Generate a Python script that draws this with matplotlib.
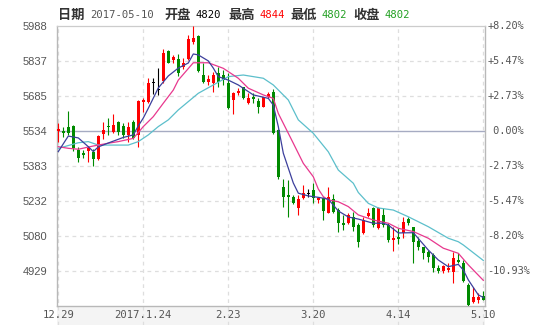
import matplotlib
matplotlib.use("Agg")
import matplotlib.pyplot as plt
import matplotlib.transforms as mtransforms
from matplotlib.patches import Rectangle
import numpy as np

# =========================
# Data
# =========================
opens = [5533, 5534, 5553, 5556, 5452, 5440, 5449, 5444, 5411, 5520,
         5556, 5531, 5572, 5556, 5517, 5574, 5517, 5661, 5659, 5743,
         5713, 5750, 5880, 5840, 5844, 5811, 5847, 5919, 5945, 5776,
         5747, 5743, 5783, 5776, 5740, 5668, 5700, 5723, 5654, 5682,
         5665, 5636, 5680, 5704, 5538, 5293, 5257, 5247, 5202, 5243,
         5265, 5279, 5236, 5243, 5181, 5239, 5192, 5137, 5137, 5163,
         5128, 5091, 5166, 5200, 5113, 5171, 5127, 5063, 5077, 5092,
         5152, 5117, 5060, 5031, 5012, 4998, 4940, 4930, 4933, 4926,
         4976, 4964, 4868, 4796, 4803, 4820]
highs = [5567, 5553, 5622, 5560, 5466, 5452, 5469, 5455, 5517, 5574,
         5589, 5607, 5579, 5567, 5574, 5582, 5668, 5675, 5764, 5764,
         5805, 5887, 5884, 5861, 5866, 5848, 5948, 5988, 5949, 5827,
         5776, 5790, 5812, 5798, 5783, 5704, 5719, 5726, 5700, 5697,
         5675, 5680, 5704, 5714, 5541, 5325, 5322, 5257, 5257, 5300,
         5282, 5308, 5250, 5250, 5290, 5261, 5199, 5171, 5179, 5185,
         5138, 5163, 5201, 5207, 5207, 5200, 5135, 5120, 5113, 5163,
         5163, 5120, 5077, 5034, 5019, 5005, 4955, 4955, 4962, 5012,
         5005, 4976, 4875, 4861, 4832, 4844]
lows = [5487, 5508, 5517, 5449, 5401, 5416, 5401, 5384, 5408, 5499,
        5517, 5524, 5517, 5502, 5487, 5498, 5466, 5617, 5654, 5693,
        5690, 5743, 5827, 5827, 5772, 5801, 5841, 5910, 5789, 5740,
        5733, 5704, 5726, 5733, 5628, 5607, 5690, 5671, 5651, 5654,
        5613, 5636, 5675, 5521, 5326, 5207, 5163, 5220, 5171, 5239,
        5247, 5223, 5223, 5149, 5179, 5178, 5097, 5106, 5132, 5103,
        5034, 5089, 5162, 5120, 5110, 5120, 5055, 5016, 5045, 5070,
        5127, 4962, 5019, 4979, 4969, 4926, 4921, 4921, 4926, 4878,
        4962, 4882, 4778, 4789, 4789, 4802]
closes = [5542, 5524, 5524, 5459, 5418, 5430, 5462, 5411, 5514, 5538,
          5550, 5560, 5531, 5517, 5553, 5502, 5664, 5668, 5740, 5743,
          5713, 5870, 5829, 5855, 5783, 5828, 5930, 5936, 5793, 5747,
          5757, 5776, 5747, 5754, 5632, 5697, 5708, 5675, 5675, 5671,
          5636, 5680, 5694, 5524, 5336, 5247, 5250, 5224, 5238, 5267,
          5265, 5243, 5243, 5188, 5247, 5185, 5137, 5127, 5171, 5117,
          5054, 5149, 5181, 5127, 5200, 5127, 5063, 5070, 5066, 5142,
          5137, 5055, 5034, 5008, 4990, 4940, 4930, 4950, 4940, 4983,
          4969, 4887, 4781, 4815, 4818, 4802]

# moving average lines, read at sample candles
ma5_idx = [0, 2, 4, 6, 7, 8, 10, 13, 15, 16, 17, 18, 20, 22, 24, 26, 27, 28,
           30, 31, 32, 34, 36, 39, 42, 43, 44, 45, 47, 48, 50, 52, 54, 56,
           58, 60, 63, 65, 66, 68, 71, 74, 76, 78, 80, 81, 82, 84, 85]
ma5_val = [5445, 5512, 5504, 5466, 5445, 5465, 5482, 5506, 5517, 5556, 5590,
           5632, 5720, 5772, 5806, 5828, 5867, 5863, 5837, 5806, 5769, 5754,
           5733, 5690, 5675, 5646, 5553, 5438, 5309, 5265, 5253, 5247, 5239,
           5188, 5162, 5153, 5135, 5135, 5127, 5093, 5094, 5019, 4976, 4947,
           4957, 4933, 4890, 4825, 4814]
ma10_idx = [0, 2, 4, 7, 10, 12, 15, 17, 19, 21, 23, 24, 27, 30, 33, 36, 38,
            41, 43, 44, 47, 49, 51, 52, 53, 54, 56, 58, 60, 63, 66, 68, 71,
            74, 77, 80, 82, 85]
ma10_val = [5466, 5459, 5455, 5469, 5481, 5488, 5502, 5553, 5596, 5654, 5711,
            5754, 5829, 5829, 5805, 5762, 5719, 5690, 5675, 5610, 5481, 5394,
            5336, 5283, 5250, 5236, 5228, 5207, 5171, 5149, 5135, 5113, 5099,
            5070, 5027, 5005, 4955, 4888]
ma20_idx = [0, 4, 6, 8, 14, 16, 18, 20, 22, 24, 28, 31, 34, 37, 41, 43, 46,
            48, 51, 54, 56, 59, 60, 62, 64, 67, 70, 74, 78, 80, 81, 85]
ma20_val = [5459, 5483, 5488, 5473, 5473, 5488, 5517, 5553, 5582, 5625, 5697,
            5733, 5769, 5776, 5762, 5733, 5668, 5582, 5524, 5444, 5365, 5308,
            5268, 5221, 5201, 5192, 5163, 5120, 5070, 5055, 5041, 4974]

x_ticks = [0, 17, 34, 51, 68, 85]
x_labels = ["12.29", "2017.1.24", "2.23", "3.20", "4.14", "5.10"]
y_ticks = [5988, 5837, 5685, 5534, 5383, 5232, 5080, 4929]
pct_labels = ["+8.20%", "+5.47%", "+2.73%", " 0.00%",
              "-2.73%", "-5.47%", "-8.20%", "-10.93%"]
base_price = 5534
y_range = (4777, 5988)

header = [("日期", "label"), ("2017-05-10", "date"), ("开盘", "label"),
          ("4820", "flat"), ("最高", "label"), ("4844", "up"),
          ("最低", "label"), ("4802", "down"), ("收盘", "label"), ("4802", "down")]
header_x = [58, 90, 164, 196, 228, 260, 290, 322, 353, 385]   # pixel positions

RED = "#ff0000"
GREEN = "#008a00"
GRID = "#dedede"
SPINE = "#b8b8b8"

# =========================
# Figure
# =========================
W, H = 540, 325
fig = plt.figure(figsize=(W / 100, H / 100), dpi=100)
fig.patch.set_facecolor("white")
L, R, T, B = 56.7, 485, 26, 306
ax = fig.add_axes([L / W, 1 - B / H, (R - L) / W, (B - T) / H])

x = np.arange(len(closes))
ax.set_xlim(-0.32, 85.34)
ax.set_ylim(*y_range)

# light band under the axis with the date labels
band_h = (H - B) / (B - T)
ax.add_patch(Rectangle((-0.32, -band_h), 85.66, band_h,
                       transform=ax.get_xaxis_transform(), facecolor="#f4f4f4",
                       edgecolor="none", clip_on=False, zorder=0))

# grid
for yv in y_ticks[1:]:
    if yv == base_price:
        ax.axhline(yv, color="#a6abc2", lw=1.0, zorder=1)
    else:
        ax.axhline(yv, color=GRID, lw=0.9, ls=(0, (3, 3)), zorder=1)
for xv in x_ticks:
    ax.axvline(xv, ymin=-band_h, ymax=1, color=GRID, lw=0.9, ls=(0, (3, 3)),
               clip_on=False, zorder=1)

# candles
o = np.array(opens); c = np.array(closes)
colors = np.where(c > o, RED, np.where(c < o, GREEN, "black"))
ax.vlines(x, lows, highs, colors=colors, lw=0.8, zorder=3)
body = np.maximum(np.abs(c - o), 3)
ax.bar(x, body, bottom=np.minimum(o, c) - np.where(c == o, 1.5, 0),
       width=0.72, color=colors, edgecolor="none", zorder=4)

# moving averages
ax.plot(ma20_idx, ma20_val, color="#5cbfcb", lw=0.9, zorder=5)
ax.plot(ma10_idx, ma10_val, color="#e8388e", lw=0.9, zorder=5)
ax.plot(ma5_idx, ma5_val, color="#3c3f9c", lw=0.9, zorder=5)

# spines and ticks
for s in ["left", "bottom", "right"]:
    ax.spines[s].set_color(SPINE)
    ax.spines[s].set_linewidth(1.0)
ax.spines["top"].set_color("#cccccc")
ax.spines["top"].set_linewidth(0.9)

ax.set_yticks(y_ticks)
ax.set_yticklabels([str(v) for v in y_ticks], family="Liberation Sans",
                   fontsize=8, color="#555555")
ax.tick_params(axis="y", length=0, pad=7)
ax.set_xticks(x_ticks)
ax.set_xticklabels(x_labels, family="DejaVu Sans Mono", fontsize=7.6,
                   color="#555555")
ax.tick_params(axis="x", length=0, pad=3)

trans = mtransforms.blended_transform_factory(ax.transAxes, ax.transData)
for yv, lab in zip(y_ticks, pct_labels):
    ax.text(1.005, yv, lab, transform=trans, ha="left", va="center",
            family="DejaVu Sans Mono", fontsize=7.4, color="#555555")

# header line
hdr_colors = {"label": "#333333", "date": "#555555", "flat": "black",
              "up": RED, "down": "#22a022"}
for (txt, kind), px in zip(header, header_x):
    if kind == "label":
        fig.text(px / W, 1 - 15 / H, txt, ha="left", va="center",
                 family=["Noto Sans CJK SC", "DejaVu Sans"], fontweight="bold",
                 fontsize=9.5, color=hdr_colors[kind])
    else:
        fig.text(px / W, 1 - 15 / H, txt, ha="left", va="center",
                 family="DejaVu Sans Mono", fontsize=7.6, color=hdr_colors[kind])

fig.savefig("out.png", dpi=100)
